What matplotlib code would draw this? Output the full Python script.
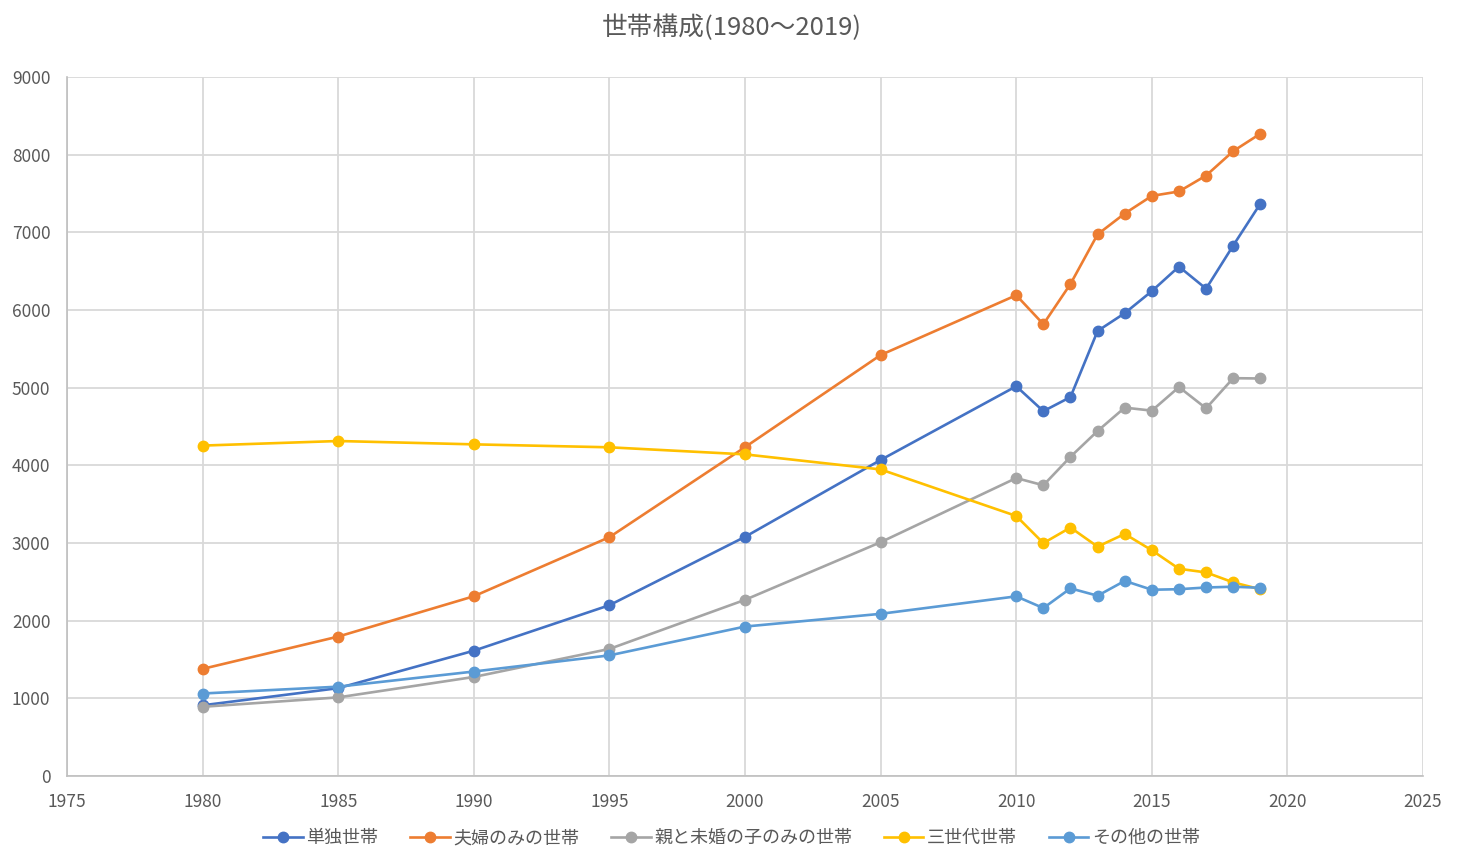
import matplotlib
matplotlib.use("Agg")
import matplotlib.pyplot as plt

plt.rcParams['font.family'] = ['Noto Sans CJK JP', 'DejaVu Sans']

# 年
years = [1980, 1985, 1990, 1995, 2000, 2005, 2010, 2011, 2012, 2013,
         2014, 2015, 2016, 2017, 2018, 2019]

# 世帯数 (千世帯)
tandoku = [910, 1131, 1613, 2199, 3079, 4069, 5018, 4697, 4879, 5730,
           5959, 6243, 6559, 6274, 6830, 7369]
fufu = [1379, 1795, 2314, 3075, 4234, 5420, 6190, 5817, 6335, 6974,
        7242, 7469, 7526, 7731, 8045, 8270]
oyako = [891, 1012, 1275, 1636, 2268, 3010, 3836, 3743, 4110, 4442,
         4743, 4704, 5007, 4734, 5122, 5118]
sansedai = [4254, 4313, 4270, 4232, 4141, 3947, 3348, 2998, 3199, 2953,
            3117, 2906, 2668, 2621, 2493, 2404]
sonota = [1062, 1150, 1345, 1553, 1924, 2088, 2313, 2162, 2416, 2321,
          2512, 2398, 2405, 2427, 2437, 2423]

labels = ["単独世帯", "夫婦のみの世帯", "親と未婚の子のみの世帯", "三世代世帯", "その他の世帯"]
colors = ["#4472C4", "#ED7D31", "#A5A5A5", "#FFC000", "#5B9BD5"]

TEXT = "#595959"
GRID = "#D9D9D9"

fig = plt.figure(figsize=(14.63, 8.65), dpi=100)
ax = fig.add_axes([0.0458, 0.1029, 0.9269, 0.8081])

for vals, lab, col in zip([tandoku, fufu, oyako, sansedai, sonota], labels, colors):
    ax.plot(years, vals, color=col, lw=1.9, marker='o', ms=7.5, label=lab)

ax.set_xlim(1975, 2025)
ax.set_ylim(0, 9000)
ax.set_xticks(range(1975, 2026, 5))
ax.set_yticks(range(0, 9001, 1000))
ax.grid(True, color=GRID, lw=1.3)
ax.set_axisbelow(True)

for s in ['top', 'right']:
    ax.spines[s].set_visible(False)
for s in ['left', 'bottom']:
    ax.spines[s].set_color("#BFBFBF")
    ax.spines[s].set_linewidth(1.2)

ax.tick_params(axis='both', length=0, labelsize=12.5, colors=TEXT)
ax.tick_params(axis='x', pad=12)
ax.tick_params(axis='y', pad=12)

fig.text(0.5, 0.968, "世帯構成(1980〜2019)", ha='center', va='center',
         fontsize=18.5, color=TEXT)

fig.legend(loc='center', bbox_to_anchor=(0.5, 0.031), ncol=5, frameon=False,
           fontsize=13, labelcolor=TEXT, handlelength=2.2, columnspacing=1.75,
           handletextpad=0.2)

fig.savefig("out.png", dpi=100)
